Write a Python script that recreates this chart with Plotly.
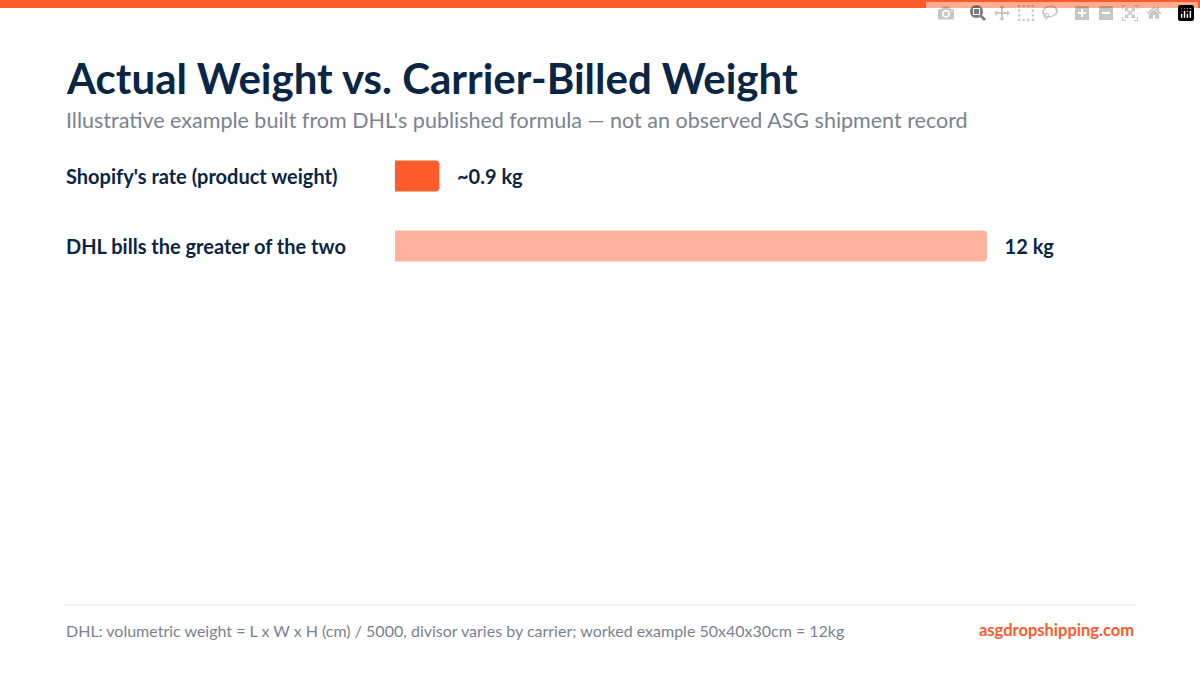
import plotly.graph_objects as go

categories = ["Shopify's rate (product weight)", "DHL bills the greater of the two"]
weights_kg = [0.9, 12]
value_labels = ["   ~0.9 kg", "   12 kg"]
bar_colors = ["#FF5A2A", "#FFB39C"]

NAVY = "#0B2545"
GRAY = "#7A8290"
W, H = 1200, 675

fig = go.Figure()
fig.add_trace(go.Bar(
    x=weights_kg, y=categories, orientation="h",
    marker=dict(color=bar_colors, cornerradius=4, line_width=0),
    width=0.44, text=value_labels, textposition="outside",
    textfont=dict(family="Lato", size=20, color=NAVY, weight="bold"),
    cliponaxis=False, hoverinfo="skip",
))

fig.update_layout(
    width=W, height=H, margin=dict(l=0, r=0, t=0, b=0),
    paper_bgcolor="white", plot_bgcolor="white", showlegend=False,
    xaxis=dict(domain=[395 / W, 987 / W], range=[0, 12], visible=False),
    yaxis=dict(domain=[1 - 281 / H, 1 - 141 / H], range=[1.5, -0.5],
               showticklabels=False, showgrid=False, zeroline=False),
    font=dict(family="Lato"),
)

# orange top band
fig.add_shape(type="rect", xref="paper", yref="paper", x0=0, x1=1,
              y0=1 - 8 / H, y1=1, fillcolor="#FF5A2A", line_width=0)
# footer rule
fig.add_shape(type="line", xref="paper", yref="paper", x0=64 / W, x1=1136 / W,
              y0=1 - 605 / H, y1=1 - 605 / H, line=dict(color="#E6E8EB", width=1))

fig.add_annotation(text="<b>Actual Weight vs. Carrier-Billed Weight</b>",
                   xref="paper", yref="paper", x=64 / W, y=1 - 78 / H,
                   xanchor="left", yanchor="middle", showarrow=False,
                   font=dict(size=42, color=NAVY))
fig.add_annotation(text="Illustrative example built from DHL's published formula — not an observed ASG shipment record",
                   xref="paper", yref="paper", x=64 / W, y=1 - 120 / H,
                   xanchor="left", yanchor="middle", showarrow=False,
                   font=dict(size=21.5, color=GRAY))

for cat in categories:
    fig.add_annotation(text=f"<b>{cat}</b>", xref="paper", yref="y", x=64 / W, y=cat,
                       xanchor="left", yanchor="middle", showarrow=False,
                       font=dict(size=20, color=NAVY))

fig.add_annotation(text="DHL: volumetric weight = L x W x H (cm) / 5000, divisor varies by carrier; worked example 50x40x30cm = 12kg",
                   xref="paper", yref="paper", x=64 / W, y=1 - 630 / H,
                   xanchor="left", yanchor="middle", showarrow=False,
                   font=dict(size=16, color=GRAY))
fig.add_annotation(text="<b>asgdropshipping.com</b>",
                   xref="paper", yref="paper", x=1136 / W, y=1 - 630 / H,
                   xanchor="right", yanchor="middle", showarrow=False,
                   font=dict(size=16.5, color="#FF5A2A"))

fig.write_html("out.html", post_script="document.body.style.margin='0';")
